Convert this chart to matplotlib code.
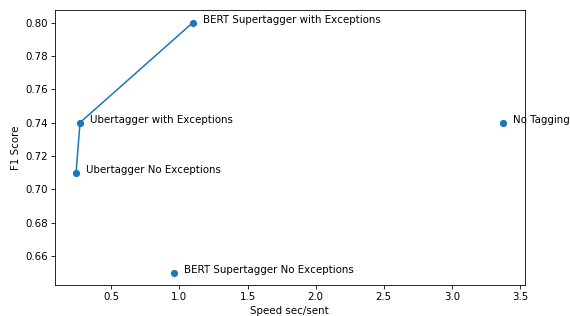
import matplotlib
matplotlib.use('Agg')
import matplotlib.pyplot as plt

# Parameters
systems = [
        'Ubertagger No Exceptions',
        'Ubertagger with Exceptions',
        'BERT Supertagger with Exceptions',
        'BERT Supertagger No Exceptions',
        'No Tagging']
speed = [0.241, 0.27, 1.098, 0.96, 3.378]
f1 = [0.71, 0.74, 0.80, 0.65, 0.74]
# systems joined by the line
line_idx = [0, 1, 2]

fig, ax = plt.subplots(figsize=(570 / 74, 316 / 74), dpi=74)
fig.subplots_adjust(left=0.096, right=0.9205, top=0.968, bottom=0.098)

ax.plot([speed[i] for i in line_idx], [f1[i] for i in line_idx], color='C0')
ax.scatter(speed, f1, color='C0')
for name, x, y in zip(systems, speed, f1):
    ax.text(x + 0.073, y, name)

ax.set_xlabel('Speed sec/sent')
ax.set_ylabel('F1 Score')
fig.savefig('out.png', dpi=74)
